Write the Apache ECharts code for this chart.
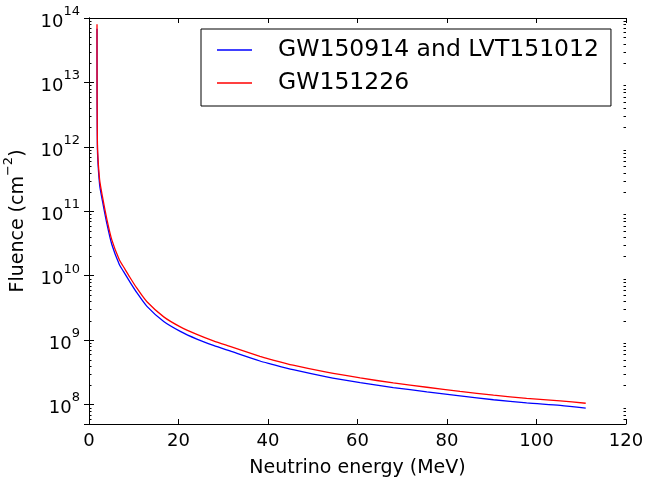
<!DOCTYPE html>
<html>
<head>
<meta charset="utf-8">
<script src="https://cdn.jsdelivr.net/npm/echarts@6/dist/echarts.min.js"></script>
<style>html,body{margin:0;padding:0;background:#fff}#c{width:649px;height:485px}</style>
</head>
<body>
<div id="c"></div>
<script>
// Neutrino energy (MeV)
const energies = [1.79, 1.80, 1.85, 1.92, 2.37, 3.0, 4.0, 5.1, 6.8, 7.7, 9.2, 10.7, 12.95, 16.7, 20.4, 24.1, 27.8, 31.5, 38.2, 40.5, 45.6, 53.1, 60.6, 68.0, 75.5, 82.9, 90.4, 97.8, 105.3, 111.0];
// Fluence upper limits (cm^-2)
const fluenceGW150914 = [6.8e13, 8.5e12, 1.7e12, 7.6e11, 2.6e11, 1.45e11, 6.4e10, 3.05e10, 1.48e10, 1.17e10, 7.9e9, 5.45e9, 3.35e9, 1.95e9, 1.37e9, 1.04e9, 8.3e8, 6.8e8, 4.75e8, 4.3e8, 3.48e8, 2.7e8, 2.2e8, 1.84e8, 1.58e8, 1.37e8, 1.19e8, 1.06e8, 9.7e7, 8.8e7];
const fluenceGW151226 = [8.0e13, 1.0e13, 2.0e12, 9.0e11, 3.1e11, 1.7e11, 7.5e10, 3.6e10, 1.75e10, 1.38e10, 9.3e9, 6.4e9, 3.94e9, 2.3e9, 1.61e9, 1.23e9, 9.75e8, 8.0e8, 5.6e8, 5.05e8, 4.09e8, 3.18e8, 2.59e8, 2.17e8, 1.86e8, 1.61e8, 1.40e8, 1.25e8, 1.14e8, 1.05e8];
const seriesNames = ['GW150914 and LVT151012', 'GW151226'];
const xTickLabels = [0, 20, 40, 60, 80, 100, 120];
const yDecades = [8, 9, 10, 11, 12, 13, 14];

const FONT = 'DejaVu Sans';
const Y_MIN = 5e7, Y_MAX = 1e14;
const X_MIN = xTickLabels[0], X_MAX = xTickLabels[xTickLabels.length - 1];

// minor tick positions (2..9 x 10^n) inside the axis range
const minorTicks = [];
for (let d = yDecades[0] - 1; d < yDecades[yDecades.length - 1]; d++) {
  for (let m = 2; m <= 9; m++) {
    const v = m * Math.pow(10, d);
    if (v >= Y_MIN && v <= Y_MAX) minorTicks.push(v);
  }
}

const supRich = {
  b: {fontSize: 18, lineHeight: 26, verticalAlign: 'bottom', fontFamily: FONT, color: '#000'},
  s: {fontSize: 13, lineHeight: 12, verticalAlign: 'top', fontFamily: FONT, color: '#000'}
};

const axisLineStyle = {show: true, lineStyle: {color: '#000', width: 1}};

const chart = echarts.init(document.getElementById('c'));
chart.setOption({
  animation: false,
  backgroundColor: '#fff',
  grid: {left: 89, right: 23, top: 18, bottom: 61, outerBoundsMode: 'none'},
  legend: {
    orient: 'vertical', left: 201, top: 29,
    icon: 'rect', itemWidth: 35, itemHeight: 1.5, itemGap: 5,
    padding: [7, 12, 9, 16],
    backgroundColor: '#fff', borderColor: '#000', borderWidth: 1, borderRadius: 0,
    textStyle: {fontSize: 23.5, color: '#000', fontFamily: FONT, lineHeight: 28, padding: [0, 0, 0, 21]},
    data: seriesNames
  },
  xAxis: [
    {
      type: 'value', min: X_MIN, max: X_MAX, interval: 20, position: 'bottom',
      axisLine: axisLineStyle,
      axisTick: {inside: true, length: 5, lineStyle: {color: '#000'}},
      axisLabel: {color: '#000', fontSize: 18, margin: 8, fontFamily: FONT},
      splitLine: {show: false},
      name: 'Neutrino energy (MeV)', nameLocation: 'middle', nameGap: 35,
      nameTextStyle: {fontSize: 19, color: '#000', fontFamily: FONT}
    },
    {
      type: 'value', min: X_MIN, max: X_MAX, interval: 20, position: 'top',
      axisLine: axisLineStyle,
      axisTick: {inside: true, length: 5, lineStyle: {color: '#000'}},
      axisLabel: {show: false},
      splitLine: {show: false}
    }
  ],
  yAxis: [
    {
      type: 'log', logBase: 10, min: Y_MIN, max: Y_MAX, position: 'left',
      splitLine: {show: false},
      axisLine: axisLineStyle,
      axisTick: {inside: true, length: 5, lineStyle: {color: '#000'}},
      axisLabel: {
        show: true, margin: 9,
        formatter: function (v) {
          const n = Math.log10(v), r = Math.round(n);
          if (Math.abs(n - r) > 1e-6) return '';
          return '{b|10}{s|' + r + '}';
        },
        rich: supRich
      },
      name: '{n|Fluence (cm}{s|\u22122}{n|)}', nameLocation: 'middle', nameGap: 61,
      nameTextStyle: {
        rich: {
          n: {fontSize: 19, lineHeight: 26, verticalAlign: 'bottom', fontFamily: FONT, color: '#000'},
          s: {fontSize: 13, lineHeight: 12, verticalAlign: 'top', fontFamily: FONT, color: '#000'}
        }
      }
    },
    {
      type: 'log', logBase: 10, min: Y_MIN, max: Y_MAX, position: 'right',
      splitLine: {show: false},
      axisLine: axisLineStyle,
      axisTick: {inside: true, length: 5, lineStyle: {color: '#000'}},
      axisLabel: {show: false}
    }
  ],
  series: [
    {
      name: seriesNames[0], type: 'line', xAxisIndex: 0, yAxisIndex: 0,
      symbol: 'none', smooth: 0.25,
      lineStyle: {color: '#0000ff', width: 1.3}, itemStyle: {color: '#0000ff'},
      data: energies.map((e, i) => [e, fluenceGW150914[i]])
    },
    {
      name: seriesNames[1], type: 'line', xAxisIndex: 0, yAxisIndex: 0,
      symbol: 'none', smooth: 0.25,
      lineStyle: {color: '#ff0000', width: 1.3}, itemStyle: {color: '#ff0000'},
      data: energies.map((e, i) => [e, fluenceGW151226[i]])
    },
    {
      // minor ticks of the log axis on both the left and right frame edges
      name: 'minorTicks', type: 'custom', xAxisIndex: 0, yAxisIndex: 0,
      silent: true, clip: false, z: 5,
      encode: {y: 0},
      data: minorTicks.map(v => [v]),
      renderItem: function (params, api) {
        const left = api.coord([X_MIN, api.value(0)]);
        const right = api.coord([X_MAX, api.value(0)]);
        const y = Math.round(left[1]) + 0.5;
        return {
          type: 'group',
          children: [
            {type: 'line', shape: {x1: left[0], y1: y, x2: left[0] + 2.5, y2: y}, style: {stroke: '#000', lineWidth: 1}},
            {type: 'line', shape: {x1: right[0] - 2.5, y1: y, x2: right[0], y2: y}, style: {stroke: '#000', lineWidth: 1}}
          ]
        };
      }
    }
  ]
});
</script>
</body>
</html>
